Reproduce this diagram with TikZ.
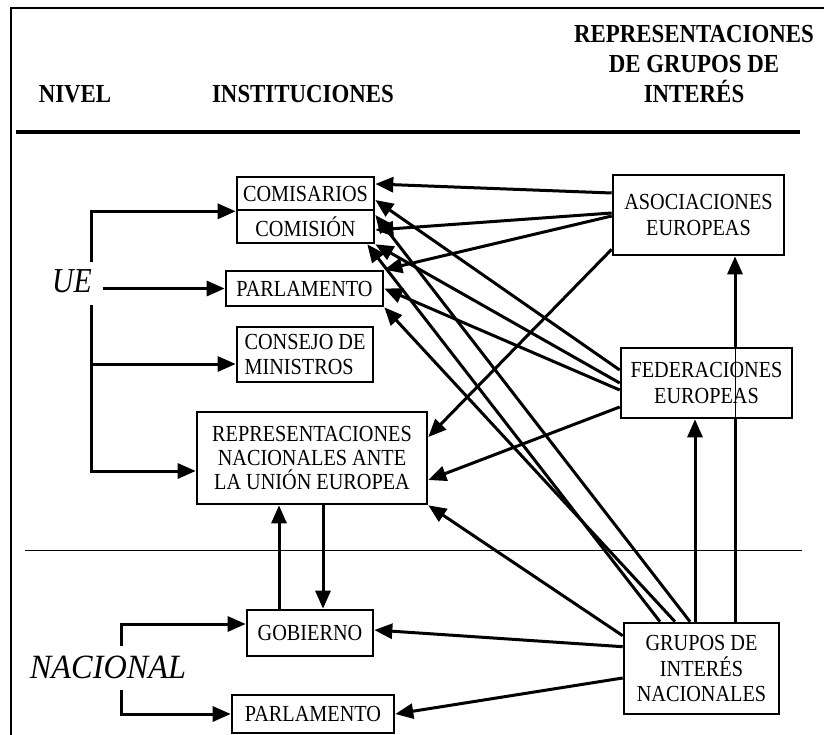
\documentclass[tikz,border=0pt]{standalone}
\usepackage{fontspec}
\setmainfont{Liberation Serif}
\newfontfamily\boxfont[FakeStretch=0.88]{Liberation Serif}
\newfontfamily\hdrfont[FakeStretch=0.88]{Liberation Serif}
\newfontfamily\labfont[FakeStretch=0.85]{Liberation Serif}
\newfontfamily\nacfont[FakeStretch=0.95]{Liberation Serif}
\usetikzlibrary{arrows.meta,backgrounds,calc}
\begin{document}
\begin{tikzpicture}[x=1pt,y=-1pt,
  box/.style={draw,line width=2.6pt,fill=white,inner sep=0pt,align=center,
    font=\boxfont\fontsize{23}{25.5}\selectfont},
  arr/.style={line width=3pt,-{Triangle[length=18pt,width=15pt]}},
  hdr/.style={font=\hdrfont\bfseries\fontsize{26}{30}\selectfont,anchor=base,inner sep=0pt},
  lab/.style={inner sep=0pt}]
\useasboundingbox (0,0) rectangle (824,735);
% frame and rules
\draw[line width=2.5pt] (11,735) -- (11,8) -- (824,8);
\draw[line width=4pt] (16,132) -- (800,132);
\draw[line width=1pt] (25,550) -- (802,550);
% headers
\node[hdr] (hNivel) at (75,103) {NIVEL};
\node[hdr] (hInst) at (303,103) {INSTITUCIONES};
\node[hdr] (hRep1) at (694,42.5) {REPRESENTACIONES};
\node[hdr] (hRep2) at (694,72.5) {DE GRUPOS DE};
\node[hdr] (hRep3) at (694,103) {INTERÉS};
% level labels
\node[lab,font=\labfont\itshape\fontsize{35}{35}\selectfont] (ue) at (72,281) {UE};
\node[lab,font=\nacfont\itshape\fontsize{34}{34}\selectfont] (nac) at (108,667) {NACIONAL};
% institution boxes
\node[box,minimum width=137pt,minimum height=33pt] (coms) at (305.5,193.5) {COMISARIOS};
\node[box,minimum width=137pt,minimum height=33pt] (comi) at (305.5,226.5) {COMISIÓN};
\node[box,minimum width=157pt,minimum height=35pt] (parlUE) at (304.5,288.5) {PARLAMENTO};
\node[box,minimum width=136pt,minimum height=55pt,align=left] (consejo) at (305,354.5) {CONSEJO DE\\MINISTROS};
\node[box,minimum width=230pt,minimum height=92pt,font=\boxfont\fontsize{23}{24}\selectfont] (repr) at (312,458) {REPRESENTACIONES\\NACIONALES ANTE\\LA UNIÓN EUROPEA};
\node[box,minimum width=126pt,minimum height=46pt] (gob) at (310,633) {GOBIERNO};
\node[box,minimum width=162pt,minimum height=38pt] (parlN) at (313,714) {PARLAMENTO};
% interest group boxes
\node[box,minimum width=171pt,minimum height=80pt] (asoc) at (698.5,215) {ASOCIACIONES\\EUROPEAS};
\node[box,minimum width=171pt,minimum height=70pt] (fed) at (706.5,383) {FEDERACIONES\\EUROPEAS};
\node[box,minimum width=155pt,minimum height=91pt] (grupos) at (701.5,668.5) {GRUPOS DE\\INTERÉS\\NACIONALES};
% UE bracket
\coordinate (ueT) at (91,262);
\coordinate (ueB) at (91,305);
\coordinate (ueR) at (103,288.5);
\coordinate (consIn) at ([yshift=-9.5pt]consejo.west);
\coordinate (reprIn) at ([yshift=-13pt]repr.west);
\draw[arr] (ueT) |- (coms.south west);
\draw[arr] (ueR) -- (parlUE.west);
\draw[arr] (ueB |- consIn) -- (consIn);
\draw[arr] (ueB) |- (reprIn);
% NACIONAL bracket
\coordinate (nacT) at (121,646);
\coordinate (nacB) at (121,690);
\coordinate (gobIn) at ([yshift=9pt]gob.west);
\draw[arr] (nacT) |- (gobIn);
\draw[arr] (nacB) |- (parlN.west);
% representation <-> government
\coordinate (gU) at ([xshift=-31pt]gob.north);
\coordinate (gD) at ([xshift=13pt]gob.north);
\draw[arr] (gU) -- (gU |- repr.south);
\draw[arr] (gD |- repr.south) -- (gD);
% from ASOCIACIONES
\draw[arr] ([yshift=22pt]asoc.west) -- ([yshift=9.5pt]coms.east);
\draw[arr] ([yshift=2pt]asoc.west) -- ([yshift=-3.5pt]comi.east);
\draw[arr] ([yshift=-1pt]asoc.west) -- (parlUE.north east);
\draw[arr] ([yshift=7pt]asoc.south west) -- ([yshift=21pt]repr.east);
% from FEDERACIONES
\draw[arr] ([yshift=13pt]fed.west) -- ([yshift=-6.5pt]coms.east);
\draw[arr] (fed.west) -- (comi.south east);
\draw[arr] ([yshift=-7pt]fed.west) -- (parlUE.east);
\draw[arr] ([yshift=-24pt]fed.west) -- ([yshift=-22pt]repr.east);
% from GRUPOS
\draw[arr] ([xshift=-41.5pt]grupos.north) -- ([xshift=-8pt]comi.south east);
\draw[arr] ([xshift=-26.5pt]grupos.north) -- (parlUE.south east);
\draw[arr] ([xshift=-11.5pt]grupos.north) -- ([yshift=11.5pt]comi.east);
\coordinate (gF) at ([xshift=-6.5pt]grupos.north);
\draw[arr] (gF) -- (gF |- fed.south);
\coordinate (gA) at ([xshift=33.5pt]grupos.north);
\begin{pgfonlayer}{background}
\draw[arr] (gA) -- (gA |- asoc.south);
\end{pgfonlayer}
\draw[line width=0.8pt] (gA |- fed.north) -- (gA |- fed.south);
\draw[arr] ([yshift=-14pt]grupos.north west) -- (repr.south east);
\draw[arr] ([yshift=-25pt]grupos.north west) -- ([yshift=3pt]gob.east);
\draw[arr] ([yshift=-9.5pt]grupos.west) -- (parlN.east);
\end{tikzpicture}
\end{document}
